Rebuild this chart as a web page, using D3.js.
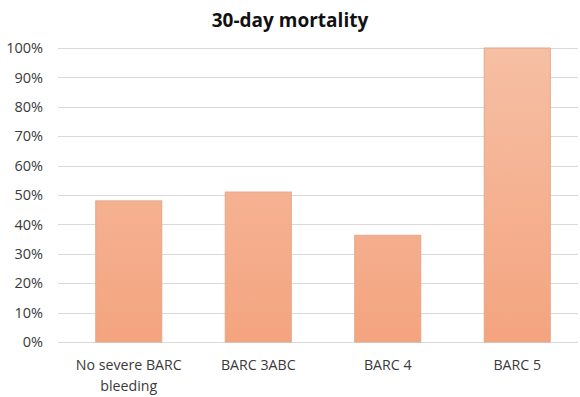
<!DOCTYPE html>
<html>
<head>
<meta charset="utf-8">
<script src="https://cdn.jsdelivr.net/npm/d3@7"></script>
<style>
  html, body { margin: 0; padding: 0; background: #fff; }
  svg { display: block; font-family: "Open Sans", "Noto Sans", sans-serif; }
</style>
</head>
<body>
<svg id="chart" width="580" height="397"></svg>
<script>
// 30-day mortality by bleeding category
const categories = [["No severe BARC", "bleeding"], ["BARC 3ABC"], ["BARC 4"], ["BARC 5"]];
const mortality = [0.48, 0.51, 0.363, 1.0];
const yTicks = [0, 0.1, 0.2, 0.3, 0.4, 0.5, 0.6, 0.7, 0.8, 0.9, 1.0];

const svg = d3.select("#chart");
const margin = { left: 58, right: 2, top: 48, bottom: 55 };
const W = 580, H = 397;

const x = d3.scaleBand()
  .domain(d3.range(categories.length))
  .range([64, 582])
  .paddingInner(0.49)
  .paddingOuter(0.245);

const y = d3.scaleLinear().domain([0, 1]).range([H - margin.bottom, margin.top]);

// bar fill: lighter at top, deeper salmon at the base
const defs = svg.append("defs");
const grad = defs.append("linearGradient")
  .attr("id", "barFill")
  .attr("gradientUnits", "userSpaceOnUse")
  .attr("x1", 0).attr("x2", 0)
  .attr("y1", y(1)).attr("y2", y(0));
grad.append("stop").attr("offset", "0%").attr("stop-color", "#f6bfa4");
grad.append("stop").attr("offset", "100%").attr("stop-color", "#f4a47f");

// gridlines
svg.append("g")
  .selectAll("line")
  .data(yTicks)
  .join("line")
  .attr("x1", margin.left).attr("x2", W - margin.right)
  .attr("y1", d => Math.round(y(d)) + 0.5).attr("y2", d => Math.round(y(d)) + 0.5)
  .attr("stroke", "#d9d9d9").attr("stroke-width", 1.2);

// y-axis labels
const yAxis = d3.axisLeft(y).tickValues(yTicks).tickFormat(d3.format(".0%")).tickSize(0).tickPadding(0);
const gy = svg.append("g").attr("transform", `translate(${margin.left - 15},0)`).call(yAxis);
gy.select(".domain").remove();
gy.selectAll("text")
  .attr("font-family", "'Open Sans', sans-serif")
  .attr("font-size", 14.5)
  .attr("fill", "#3a3a3a");

// bars
svg.append("g")
  .selectAll("rect")
  .data(mortality)
  .join("rect")
  .attr("x", (d, i) => x(i))
  .attr("width", x.bandwidth())
  .attr("y", d => y(d))
  .attr("height", d => y(0) - y(d))
  .attr("fill", "url(#barFill)")
  .attr("stroke", "#e3a887")
  .attr("stroke-width", 1);

// category labels
const xl = svg.append("g");
categories.forEach((lines, i) => {
  const t = xl.append("text")
    .attr("x", x(i) + x.bandwidth() / 2)
    .attr("y", 370)
    .attr("text-anchor", "middle")
    .attr("font-size", 14.2)
    .attr("fill", "#3a3a3a");
  lines.forEach((s, k) => {
    t.append("tspan").attr("x", x(i) + x.bandwidth() / 2).attr("dy", k === 0 ? 0 : 21).text(s);
  });
});

// title
svg.append("text")
  .attr("x", 290).attr("y", 27)
  .attr("text-anchor", "middle")
  .attr("font-size", 19)
  .attr("font-weight", "bold")
  .attr("fill", "#111")
  .text("30-day mortality");
</script>
</body>
</html>
